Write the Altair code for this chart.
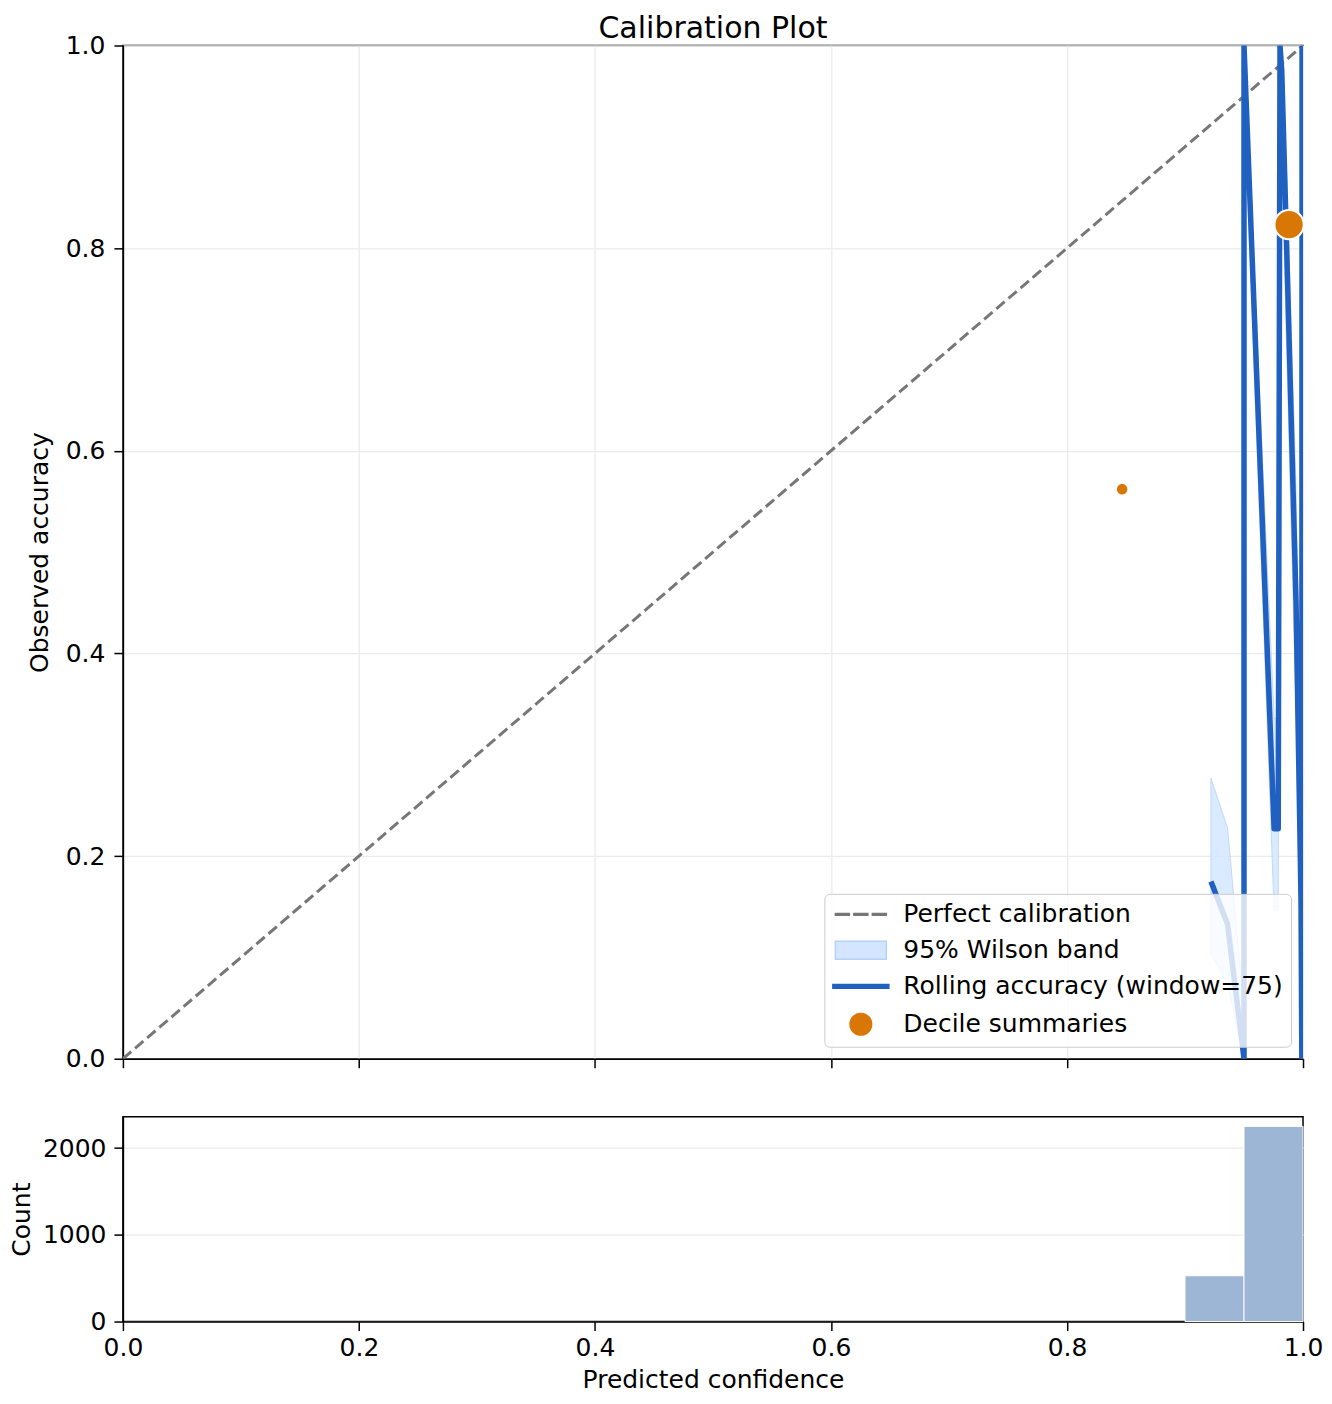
import altair as alt
import pandas as pd

FONT = "DejaVu Sans"

# Rolling accuracy path (in plotted order) and its 95% Wilson band
roll_conf = [0.922, 0.936, 0.950, 0.950, 0.9755, 0.979, 0.9805, 0.982, 0.9857, 0.9941, 0.9983, 0.9990, 0.9992]
roll_acc = [0.175, 0.133, 0.000, 1.000, 0.227, 0.227, 1.000, 0.975, 0.820, 0.450, 0.157, 0.000, 1.000]
roll_lo = [0.104, 0.074, 0.000, 0.951, 0.146, 0.146, 0.951, 0.907, 0.718, 0.342, 0.094, 0.000, 0.951]
roll_hi = [0.277, 0.228, 0.049, 1.000, 0.336, 0.336, 1.000, 0.993, 0.890, 0.563, 0.255, 0.049, 1.000]

# Decile summaries
decile_conf = [0.8467, 0.9882]
decile_acc = [0.5621, 0.8232]
decile_count = [40, 2730]

# Histogram of predicted confidence
hist_lo = [0.90, 0.95]
hist_hi = [0.95, 1.00]
hist_count = [528, 2250]

# Perfect calibration diagonal
diag = [0.0, 1.0]

ticks01 = [0.0, 0.2, 0.4, 0.6, 0.8, 1.0]
count_ticks = [0, 1000, 2000]

legend_labels = ["Perfect calibration", "95% Wilson band",
                 "Rolling accuracy (window=75)", "Decile summaries"]

C_DIAG = "#777777"
C_BAND = "#d4e6ff"
C_BAND_EDGE = "#b5d2fb"
C_LINE = "#2060c0"
C_DOT = "#d97706"
C_HIST = "#9eb6d6"

roll_df = pd.DataFrame({"idx": list(range(len(roll_conf))), "conf": roll_conf,
                        "acc": roll_acc, "lo": roll_lo, "hi": roll_hi})
dec_df = pd.DataFrame({"conf": decile_conf, "acc": decile_acc, "n": decile_count})
hist_df = pd.DataFrame({"lo": hist_lo, "hi": hist_hi, "count": hist_count})
diag_df = pd.DataFrame({"x": diag, "y": diag})
leg_df = pd.DataFrame({"series": legend_labels})

xscale = alt.Scale(domain=[0, 1], nice=False, zero=False)
yscale = alt.Scale(domain=[0, 1], nice=False, zero=False)

x_main = alt.X("x:Q", scale=xscale,
               axis=alt.Axis(values=ticks01, labels=False, title=None, grid=True))
y_main = alt.Y("y:Q", scale=yscale,
               axis=alt.Axis(values=ticks01, format=".1f", title="Observed accuracy",
                             titlePadding=13, grid=True))

diag_layer = alt.Chart(diag_df).mark_line(
    color=C_DIAG, strokeWidth=3, strokeDash=[11, 5], clip=True
).encode(x=x_main, y=y_main)

band_layer = alt.Chart(roll_df).mark_area(
    fill=C_BAND, fillOpacity=0.85, stroke=C_BAND_EDGE, strokeWidth=1, strokeOpacity=0.8, clip=True
).encode(
    x=alt.X("conf:Q", scale=xscale),
    y=alt.Y("hi:Q", scale=yscale, stack=None),
    y2="lo:Q",
)

line_layer = alt.Chart(roll_df).mark_line(
    color=C_LINE, strokeWidth=5.5, strokeJoin="round", clip=True
).encode(
    x=alt.X("conf:Q", scale=xscale),
    y=alt.Y("acc:Q", scale=yscale),
    order=alt.Order("idx:Q"),
)

dot_layer = alt.Chart(dec_df).mark_circle(
    color=C_DOT, opacity=1, stroke="white", strokeWidth=2
).encode(
    x=alt.X("conf:Q", scale=xscale),
    y=alt.Y("acc:Q", scale=yscale),
    size=alt.Size("n:Q", scale=alt.Scale(range=[160, 860], zero=False, nice=False), legend=None),
)

# Legend symbols (custom paths, unit = 10px)
p_dash = ("M-2.55,-0.08H-1.15V0.08H-2.55Z M-0.7,-0.08H0.7V0.08H-0.7Z "
          "M1.15,-0.08H2.55V0.08H1.15Z")
p_rect = "M-2.55,-0.9H2.55V0.9H-2.55Z"
p_line = "M-2.8,-0.19H2.8V0.19H-2.8Z"
p_circ = "M-1.08,0A1.08,1.08,0,1,0,1.08,0A1.08,1.08,0,1,0,-1.08,0Z"

leg = alt.Legend(
    title=None, orient="bottom-right", offset=12, padding=8,
    fillColor="rgba(255,255,255,0.8)", strokeColor="#cccccc", cornerRadius=5,
    labelFont=FONT, labelFontSize=25, labelColor="black", labelLimit=800,
    symbolSize=400, symbolOffset=16, labelOffset=30, rowPadding=10,
    symbolStrokeWidth=1.5,
)

legend_layer = alt.Chart(leg_df).mark_point(filled=True, opacity=1).encode(
    fill=alt.Fill("series:N", scale=alt.Scale(domain=legend_labels,
                  range=[C_DIAG, C_BAND, C_LINE, C_DOT]), legend=leg),
    stroke=alt.Stroke("series:N", scale=alt.Scale(domain=legend_labels,
                      range=[C_DIAG, C_BAND_EDGE, C_LINE, C_DOT]), legend=leg),
    shape=alt.Shape("series:N", scale=alt.Scale(domain=legend_labels,
                    range=[p_dash, p_rect, p_line, p_circ]), legend=leg),
).transform_filter("false")

main = alt.layer(diag_layer, band_layer, line_layer, dot_layer, legend_layer).properties(
    width=1181, height=1014,
    title=alt.Title("Calibration Plot", fontSize=30, font=FONT, fontWeight="normal",
                    anchor="middle", frame="group", offset=-10, color="black"),
)

hist = alt.Chart(hist_df).mark_rect(color=C_HIST, stroke="white", strokeWidth=1).encode(
    x=alt.X("lo:Q", scale=xscale,
            axis=alt.Axis(values=ticks01, format=".1f", grid=False, labelFlush=False,
                          labelPadding=5, title="Predicted confidence", titlePadding=7)),
    x2="hi:Q",
    y=alt.Y("count:Q", scale=alt.Scale(domain=[0, 2362], nice=False),
            axis=alt.Axis(values=count_ticks, format="d", title="Count",
                          labelPadding=8, titlePadding=8, grid=True)),
    y2=alt.datum(0),
).properties(width=1181, height=205)

chart = alt.vconcat(main, hist, spacing=43).resolve_scale(
    fill="independent", stroke="independent", shape="independent", size="independent"
).properties(
    padding={"left": 0, "top": 4, "right": 0, "bottom": 0}
).configure_view(
    stroke="black", strokeWidth=1.5
).configure_axis(
    domainColor="black", domainWidth=1.5, tickColor="black", tickWidth=1.5, tickSize=9,
    labelFont=FONT, labelFontSize=25, labelColor="black", labelPadding=9,
    titleFont=FONT, titleFontSize=25, titleFontWeight="normal", titleColor="black",
    gridColor="#ebebeb", gridWidth=1.3,
)

chart.save("out.html", embed_options={"renderer": "svg", "actions": False})
